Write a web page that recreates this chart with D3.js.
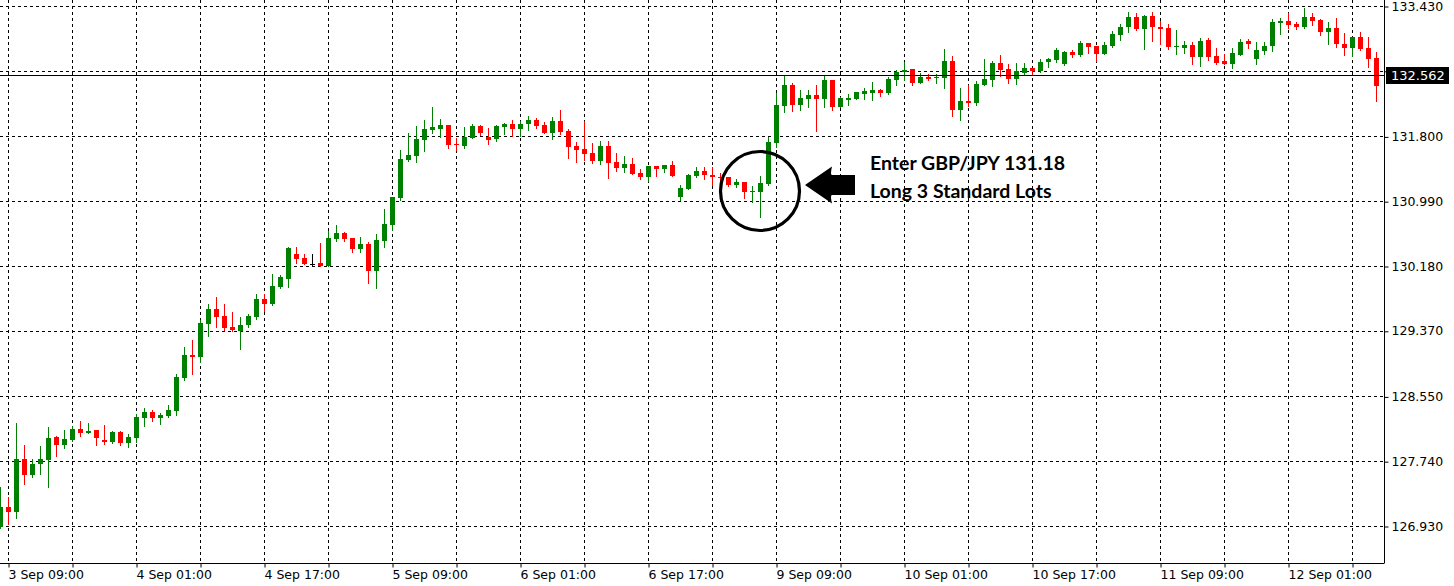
<!DOCTYPE html>
<html><head><meta charset="utf-8">
<script src="https://cdn.jsdelivr.net/npm/d3@7"></script>
<style>body{margin:0;background:#fff}svg{display:block}</style>
</head><body>
<svg id="chart" width="1454" height="586"></svg>
<script>
// ---- data (GBP/JPY, H1) ----
const sessionDays = ["3 Sep","4 Sep","5 Sep","6 Sep","9 Sep","10 Sep","11 Sep","12 Sep"];
const firstHour = 8, lastHour = 12;
const open = [
126.918,127.168,127.109,127.768,127.571,127.705,127.759,128.043,127.946,128.005,
128.143,128.096,128.130,128.005,127.980,128.105,127.968,128.030,128.280,128.355,
128.280,128.305,128.368,128.784,129.068,129.043,129.455,129.643,129.555,129.418,
129.368,129.443,129.543,129.768,129.705,129.918,130.018,130.330,130.280,130.211,
130.218,130.180,130.518,130.593,130.530,130.393,130.455,130.118,130.493,130.693,
131.030,131.505,131.555,131.755,131.880,131.893,131.943,131.705,131.680,131.780,
131.930,131.793,131.768,131.918,131.955,131.893,131.955,132.005,131.943,131.843,
131.993,131.868,131.680,131.643,131.593,131.493,131.680,131.480,131.405,131.455,
131.343,131.293,131.430,131.393,131.443,131.043,131.143,131.305,131.368,131.318,
131.293,131.293,131.193,131.230,131.105,131.105,131.205,131.718,132.180,132.443,
132.193,132.268,132.318,132.268,132.505,132.168,132.255,132.268,132.330,132.343,
132.380,132.343,132.505,132.605,132.643,132.468,132.543,132.530,132.530,132.743,
132.130,132.243,132.218,132.443,132.505,132.718,132.643,132.518,132.593,132.655,
132.618,132.730,132.755,132.705,132.855,132.818,132.968,132.930,132.830,132.930,
133.068,133.168,133.293,133.143,133.305,133.168,133.155,132.918,132.905,132.943,
132.793,133.005,132.805,132.743,132.705,132.818,132.993,132.768,132.868,132.930,
133.218,133.243,133.205,133.168,133.293,133.255,133.105,133.155,132.955,132.905,
133.043,132.905,132.780];
const high = [
127.418,127.293,128.218,127.943,127.768,127.930,128.168,128.055,128.130,128.180,
128.243,128.218,128.130,128.193,128.118,128.118,128.080,128.330,128.405,128.380,
128.343,128.443,128.830,129.168,129.255,129.505,129.705,129.793,129.705,129.605,
129.543,129.580,129.830,129.830,130.080,130.068,130.418,130.418,130.330,130.330,
130.468,130.618,130.693,130.605,130.530,130.543,130.480,130.580,130.893,131.043,
131.630,131.843,131.930,132.005,132.168,132.018,131.943,131.780,131.918,131.955,
131.943,131.905,131.943,131.968,132.005,131.993,132.055,132.030,131.980,132.043,
132.130,131.893,131.730,131.993,131.718,131.743,131.743,131.593,131.555,131.530,
131.393,131.430,131.430,131.443,131.493,131.193,131.330,131.418,131.418,131.418,
131.343,131.293,131.268,131.230,131.180,131.305,131.793,132.343,132.568,132.468,
132.380,132.380,132.443,132.568,132.505,132.293,132.330,132.355,132.405,132.480,
132.393,132.543,132.630,132.730,132.643,132.593,132.580,132.580,132.893,132.805,
132.405,132.443,132.493,132.768,132.743,132.818,132.705,132.718,132.718,132.655,
132.768,132.780,132.905,132.868,132.880,132.993,132.968,132.930,132.980,133.118,
133.205,133.355,133.343,133.318,133.355,133.243,133.205,133.130,132.993,132.980,
133.030,133.030,132.905,132.830,132.905,133.018,133.018,132.980,132.980,133.268,
133.280,133.343,133.230,133.405,133.343,133.268,133.230,133.280,133.093,133.043,
133.105,133.043,132.855];
const low = [
126.905,126.955,127.034,127.459,127.546,127.584,127.421,127.809,127.905,127.993,
128.059,128.096,127.943,127.955,127.968,127.943,127.918,127.980,128.180,128.243,
128.205,128.293,128.318,128.755,128.830,128.980,129.305,129.418,129.380,129.368,
129.143,129.418,129.518,129.618,129.693,129.905,129.918,130.218,130.205,130.180,
130.180,130.180,130.493,130.493,130.355,130.355,129.968,129.905,130.418,130.630,
131.005,131.493,131.480,131.618,131.843,131.793,131.655,131.630,131.655,131.780,
131.818,131.705,131.743,131.830,131.805,131.805,131.880,131.905,131.843,131.768,
131.830,131.530,131.480,131.505,131.468,131.455,131.280,131.368,131.355,131.330,
131.268,131.243,131.305,131.355,131.305,131.005,131.143,131.293,131.268,131.193,
131.255,131.180,131.168,131.030,130.980,130.793,131.193,131.668,132.105,132.118,
132.130,132.168,131.868,132.168,132.130,132.168,132.193,132.268,132.268,132.255,
132.305,132.330,132.443,132.505,132.443,132.468,132.505,132.468,132.405,132.055,
132.005,132.180,132.193,132.443,132.430,132.555,132.468,132.455,132.568,132.568,
132.605,132.668,132.730,132.693,132.793,132.805,132.843,132.743,132.830,132.918,
133.005,133.105,133.130,132.893,132.993,132.955,132.893,132.830,132.843,132.705,
132.680,132.755,132.705,132.705,132.655,132.818,132.905,132.705,132.830,132.868,
133.080,133.155,133.143,133.155,133.193,133.068,132.955,132.918,132.818,132.805,
132.880,132.668,132.243];
const close = [
127.168,127.109,127.768,127.571,127.705,127.768,128.030,127.946,128.018,128.143,
128.096,128.118,128.030,127.980,128.105,127.968,128.043,128.293,128.355,128.280,
128.318,128.380,128.796,129.068,129.043,129.468,129.643,129.543,129.405,129.380,
129.443,129.555,129.768,129.705,129.930,130.043,130.405,130.268,130.205,130.211,
130.180,130.530,130.593,130.518,130.393,130.455,130.118,130.505,130.705,131.043,
131.518,131.568,131.768,131.893,131.918,131.943,131.693,131.689,131.793,131.930,
131.843,131.755,131.930,131.955,131.893,131.955,132.005,131.930,131.843,131.993,
131.855,131.668,131.630,131.580,131.493,131.680,131.468,131.405,131.455,131.330,
131.293,131.430,131.393,131.443,131.305,131.155,131.318,131.368,131.318,131.293,
131.280,131.193,131.230,131.105,131.118,131.218,131.730,132.193,132.443,132.193,
132.280,132.318,132.268,132.505,132.168,132.280,132.280,132.355,132.368,132.380,
132.343,132.518,132.605,132.630,132.468,132.543,132.518,132.543,132.743,132.130,
132.243,132.218,132.455,132.518,132.718,132.630,132.518,132.618,132.655,132.618,
132.730,132.768,132.880,132.855,132.818,132.968,132.918,132.830,132.943,133.080,
133.168,133.293,133.143,133.305,133.168,133.143,132.918,132.930,132.943,132.793,
132.993,132.793,132.718,132.705,132.843,132.980,132.955,132.880,132.930,133.230,
133.243,133.193,133.168,133.293,133.243,133.105,133.155,132.955,132.905,133.043,
132.893,132.768,132.430];
const priceTicks = [126.930,127.740,128.550,129.370,130.180,130.990,131.800,132.620,133.430];
const currentPrice = 132.562;
const entryPrice = 131.18;
const noteLines = ["Enter GBP/JPY 131.18","Long 3 Standard Lots"];

// ---- categories (hourly bars, weekend skipped) ----
const categories = [];
sessionDays.forEach((d, k) => {
  const h0 = k === 0 ? firstHour : 0;
  const h1 = k === sessionDays.length - 1 ? lastHour : 23;
  for (let h = h0; h <= h1; h++) categories.push(d + " " + String(h).padStart(2, "0") + ":00");
});
const bars = categories.map((c, i) => ({c, o: open[i], h: high[i], l: low[i], cl: close[i]}));

// ---- layout ----
const plotR = 1384, plotB = 563;
const svg = d3.select("#chart");
const x = d3.scalePoint().domain(categories).range([0, (categories.length - 1) * 8]);
const y = d3.scaleLinear().domain([126.93, 133.43]).range([526, 6]);

const xTicks = categories.filter((c, i) => (i - 1) % 8 === 0);
const xLabelled = new Set(categories.filter((c, i) => (i - 1) % 16 === 0));

// grid
const grid = svg.append("g").attr("stroke", "#000").attr("stroke-dasharray", "3,3").attr("stroke-width", 1);
grid.selectAll("line.h").data(priceTicks).join("line").attr("class", "h")
  .attr("x1", 0).attr("x2", plotR).attr("y1", d => Math.round(y(d)) + 0.5).attr("y2", d => Math.round(y(d)) + 0.5);
grid.selectAll("line.v").data(xTicks).join("line").attr("class", "v")
  .attr("y1", 0).attr("y2", plotB).attr("x1", d => x(d) + 0.5).attr("x2", d => x(d) + 0.5);

// candles
const colorOf = d => d.cl > d.o ? "#008000" : (d.cl < d.o ? "#ff0000" : "#000000");
const cg = svg.append("g");
cg.selectAll("rect.wick").data(bars).join("rect").attr("class", "wick")
  .attr("x", d => x(d.c)).attr("width", 1)
  .attr("y", d => Math.round(y(d.h)))
  .attr("height", d => Math.max(1, Math.round(y(d.l)) - Math.round(y(d.h)) + 1))
  .attr("fill", colorOf);
cg.selectAll("rect.body").data(bars).join("rect").attr("class", "body")
  .attr("x", d => x(d.c) - 2).attr("width", 5)
  .attr("y", d => Math.round(y(Math.max(d.o, d.cl))))
  .attr("height", d => Math.max(1, Math.round(y(Math.min(d.o, d.cl))) - Math.round(y(Math.max(d.o, d.cl)))))
  .attr("fill", colorOf);

// current price line
const py = Math.round(y(currentPrice));
svg.append("line").attr("x1", 0).attr("x2", plotR)
  .attr("y1", py + 0.5).attr("y2", py + 0.5)
  .attr("stroke", "#000").attr("stroke-width", 1);

// axes
const font = "'DejaVu Sans', sans-serif";
const fmt = d3.format(".3f");
// the tick label hidden behind the price tag in the reference is left blank
const hiddenTick = d => Math.abs(y(d) - y(currentPrice)) < 12;
const ya = svg.append("g").attr("transform", `translate(${plotR + 0.5},0)`)
  .call(d3.axisRight(y).tickValues(priceTicks).tickFormat(d => hiddenTick(d) ? "" : fmt(d)).tickSize(4).tickPadding(3));
ya.select(".domain").attr("d", `M0,0V${plotB + 0.5}`).attr("stroke", "#000");
ya.selectAll(".tick line").attr("transform", "translate(0,0.5)");
ya.selectAll("text").attr("font-family", font).attr("font-size", 12.5).attr("fill", "#000");

const xa = svg.append("g").attr("transform", `translate(0,${plotB + 0.5})`)
  .call(d3.axisBottom(x).tickValues(xTicks).tickSizeOuter(0).tickSize(4).tickPadding(3)
    .tickFormat(c => xLabelled.has(c) ? c : ""));
xa.select(".domain").attr("d", `M0,0H${plotR}`).attr("stroke", "#000");
xa.selectAll(".tick line").attr("transform", "translate(0.5,0)");
xa.selectAll("text").attr("font-family", font).attr("font-size", 12.5).attr("fill", "#000")
  .attr("text-anchor", "start").attr("dx", 0);

// current price label
svg.append("rect").attr("x", plotR + 2).attr("y", py - 8).attr("width", 63).attr("height", 17).attr("fill", "#000");
svg.append("text").attr("x", plotR + 7).attr("y", py + 0.5).attr("dy", "0.35em")
  .attr("font-family", font).attr("font-size", 13).attr("fill", "#fff").text(fmt(currentPrice));

// annotation: entry circle, arrow, note
const entryCat = categories[95];
const cx = x(entryCat), cy = y(entryPrice) + 5;
svg.append("circle").attr("cx", cx).attr("cy", cy).attr("r", 39.5)
  .attr("fill", "none").attr("stroke", "#000").attr("stroke-width", 3.2);
const ax = cx + 45, ay = cy - 6;
svg.append("path").attr("fill", "#000")
  .attr("d", `M${ax},${ay} L${ax + 27},${ay - 18.5} Q${ax + 25},${ay - 10} ${ax + 27},${ay - 10} L${ax + 50},${ay - 10} L${ax + 50},${ay + 10} L${ax + 27},${ay + 10} Q${ax + 25},${ay + 10} ${ax + 27},${ay + 18.5} Z`);
svg.append("g").selectAll("text").data(noteLines).join("text")
  .attr("x", ax + 65).attr("y", (d, i) => ay - 15 + i * 28)
  .attr("font-family", "Lato, 'Open Sans', sans-serif").attr("font-weight", 700).attr("font-size", 19.5)
  .attr("fill", "#000").text(d => d);
</script>
</body></html>
